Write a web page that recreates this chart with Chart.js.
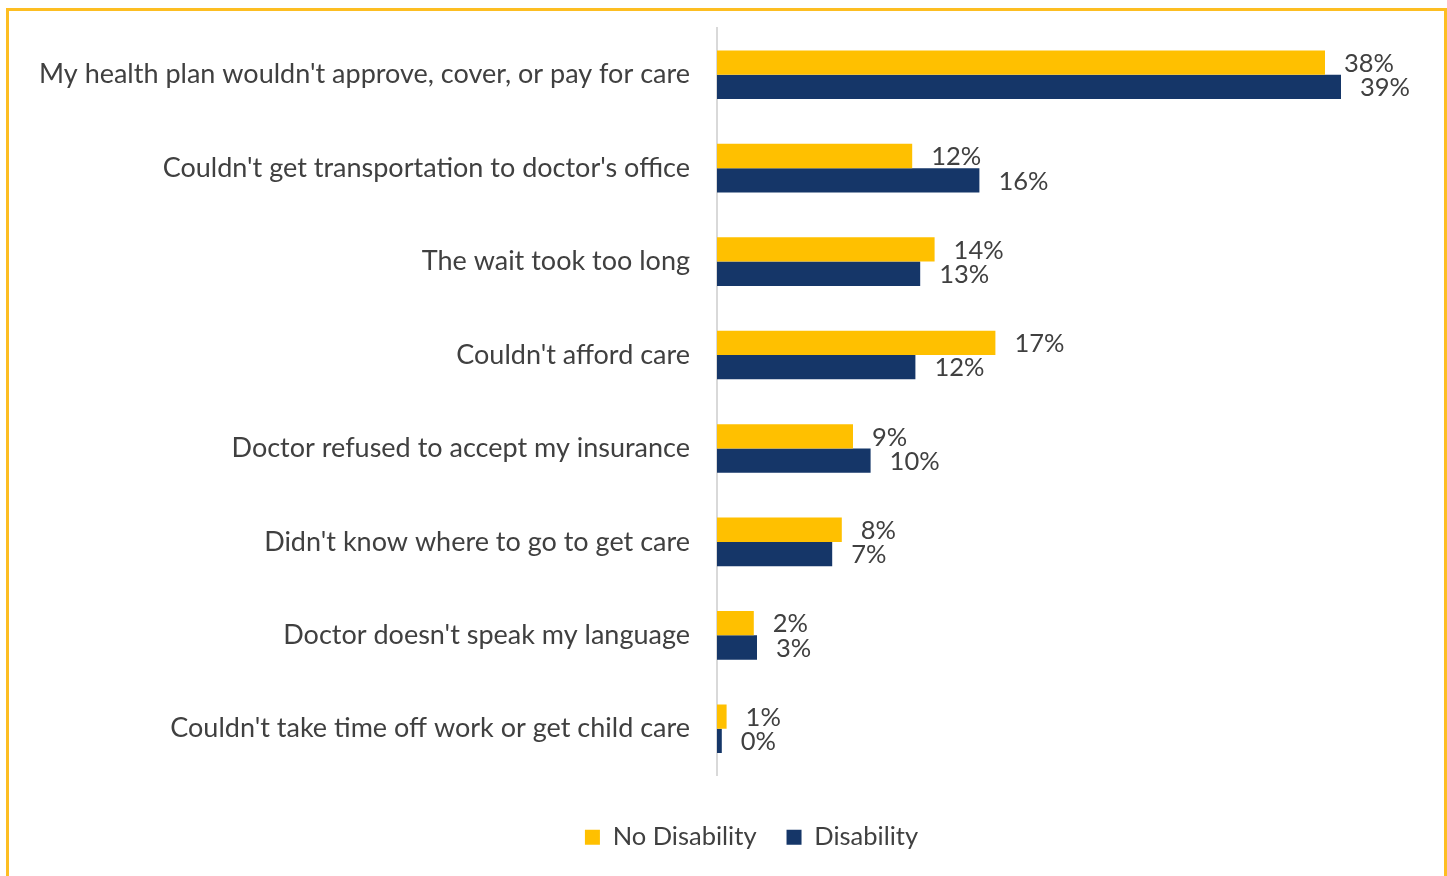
<!DOCTYPE html>
<html>
<head>
<meta charset="utf-8">
<script src="https://cdn.jsdelivr.net/npm/chart.js@4/dist/chart.umd.min.js"></script>
<style>
  html, body { margin: 0; padding: 0; background: #fff; overflow: hidden; }
  .frame {
    position: absolute; left: 6px; top: 8px; width: 1435px; height: 900px;
    border: 3px solid #FDBE22; border-bottom: none;
  }
  .wrap { position: absolute; left: 0; top: 0; width: 1447px; height: 876px; }
</style>
</head>
<body>
<div class="frame"></div>
<div class="wrap"><canvas id="chart"></canvas></div>
<script>
const categories = [
  "My health plan wouldn't approve, cover, or pay for care",
  "Couldn't get transportation to doctor's office",
  "The wait took too long",
  "Couldn't afford care",
  "Doctor refused to accept my insurance",
  "Didn't know where to go to get care",
  "Doctor doesn't speak my language",
  "Couldn't take time off work or get child care"
];
const noDisability = [38.0, 12.2, 13.6, 17.4, 8.5, 7.8, 2.3, 0.6];
const disability = [39.0, 16.4, 12.7, 12.4, 9.6, 7.2, 2.5, 0.3];

const FONT = 'Lato, "Open Sans", sans-serif';
const TEXT = '#404040';

// value labels to the right of each bar
const barLabels = {
  id: 'barLabels',
  afterDatasetsDraw(chart) {
    const ctx = chart.ctx;
    ctx.save();
    ctx.font = '25.5px ' + FONT;
    ctx.fillStyle = TEXT;
    ctx.textAlign = 'left';
    ctx.textBaseline = 'middle';
    chart.data.datasets.forEach((ds, i) => {
      chart.getDatasetMeta(i).data.forEach((bar, j) => {
        ctx.fillText(Math.round(ds.data[j]) + '%', bar.x + 19, bar.y + 1);
      });
    });
    ctx.restore();
  }
};

// the legend in the original sits a little right of the page centre
const legendShift = {
  id: 'legendShift',
  afterLayout(chart) {
    if (chart.legend) chart.legend.left += 66;
  }
};

new Chart(document.getElementById('chart'), {
  type: 'bar',
  data: {
    labels: categories,
    datasets: [
      { label: 'No Disability', data: noDisability, backgroundColor: '#FFC000' },
      { label: 'Disability', data: disability, backgroundColor: '#153668' }
    ]
  },
  options: {
    indexAxis: 'y',
    responsive: true,
    maintainAspectRatio: false,
    animation: false,
    barPercentage: 1.0,
    categoryPercentage: 0.52,
    layout: { padding: { top: 28, right: 10, bottom: 16, left: 0 } },
    scales: {
      x: {
        min: 0, max: 45,
        grid: { display: false },
        border: { display: false },
        ticks: { display: false },
        afterFit(scale) { scale.height = 19; }
      },
      y: {
        // invisible tick marks give the gap between labels and the axis line
        grid: { display: true, drawOnChartArea: false, drawTicks: true, tickLength: 27, color: 'rgba(0,0,0,0)' },
        border: { display: true, color: '#D9D9D9', width: 2 },
        ticks: { color: TEXT, font: { family: FONT, size: 27 }, padding: 0 },
        afterFit(scale) { scale.width = 717; }
      }
    },
    plugins: {
      legend: {
        position: 'bottom',
        labels: {
          color: TEXT,
          font: { family: FONT, size: 25.5 },
          boxWidth: 15, boxHeight: 15,
          padding: 30
        }
      },
      tooltip: { enabled: false }
    }
  },
  plugins: [barLabels, legendShift]
});
</script>
</body>
</html>
